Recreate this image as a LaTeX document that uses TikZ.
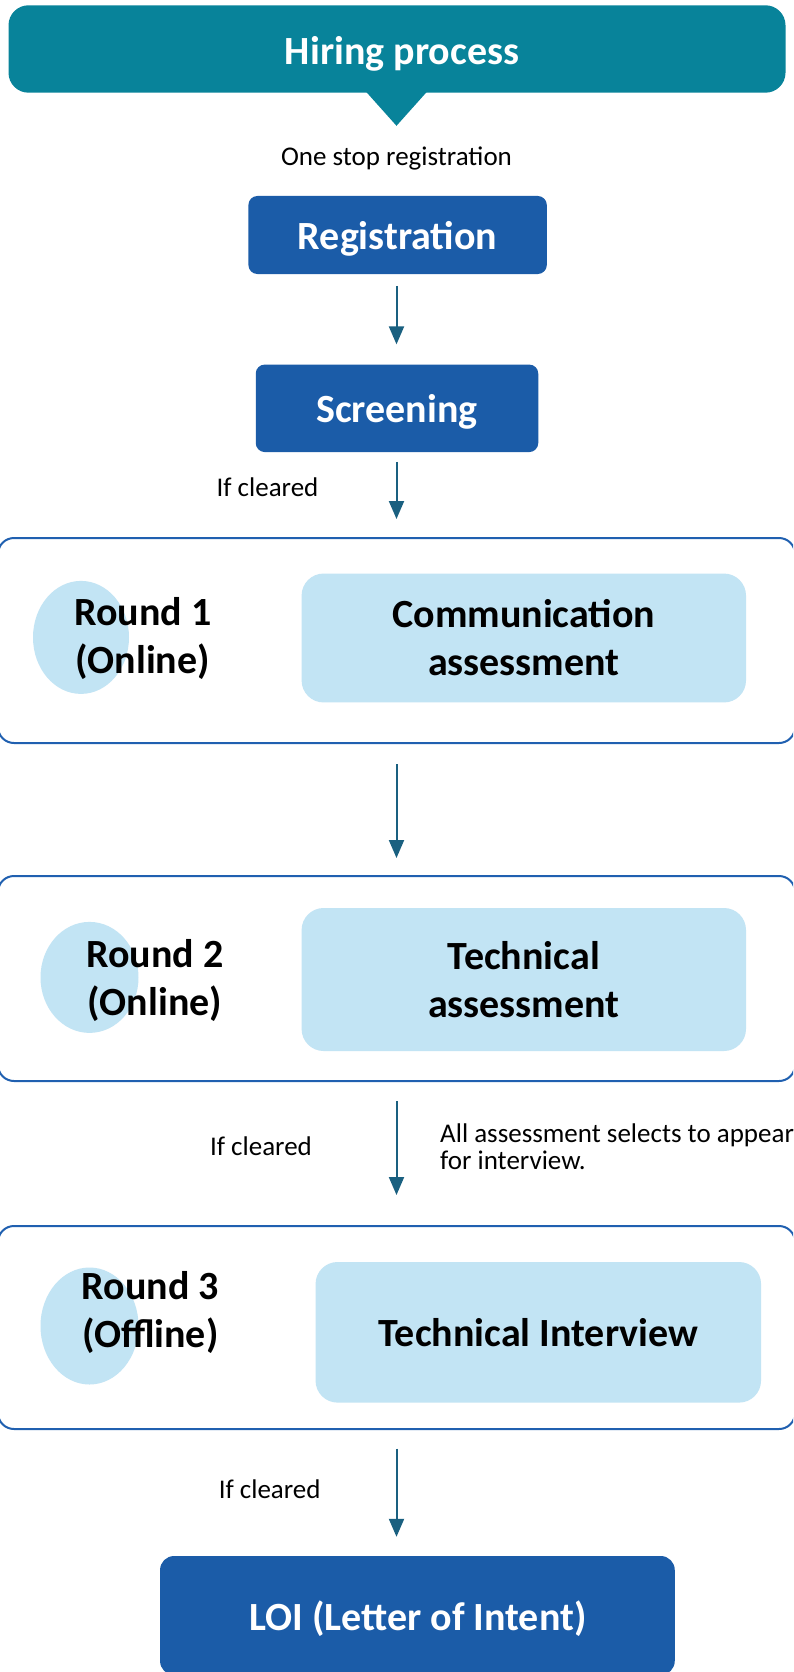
\documentclass[tikz,border=0pt]{standalone}
\usepackage{fontspec}
\setmainfont{Carlito}
\usetikzlibrary{arrows.meta,shapes.geometric}
\definecolor{tealbox}{HTML}{08839A}
\definecolor{regblue}{HTML}{1B5CA8}
\definecolor{lightb}{HTML}{C2E4F4}
\definecolor{arrowc}{HTML}{1A6080}
\definecolor{borderb}{HTML}{2060B0}
\begin{document}
\begin{tikzpicture}[x=1pt,y=-1pt,
  bigtext/.style={font=\fontsize{40}{48}\selectfont\bfseries},
  smalltext/.style={font=\fontsize{27}{27}\selectfont},
  darkbox/.style={fill=regblue, rounded corners=9pt, text=white, bigtext, inner sep=0pt, text depth=0pt},
  lightbox/.style={fill=lightb, rounded corners=22pt, bigtext, align=center, inner sep=0pt},
  container/.style={draw=borderb, line width=2pt, rounded corners=16pt, inner sep=0pt},
  flow/.style={draw=arrowc, line width=2pt, -{Triangle[length=18pt,width=15pt]}},
  roundlbl/.style={bigtext, align=center},
  oval/.style={ellipse, fill=lightb, inner sep=0pt},
  ]
\clip (0,0) rectangle (793,1672);
\fill[white] (0,0) rectangle (793,1672);
% title
\node[fill=tealbox, rounded corners=20pt, minimum width=777pt, minimum height=87.4pt, inner sep=0pt] (title) at (397,49) {};
\fill[tealbox] (364.5,90) -- (396.5,125.8) -- (428.5,90) -- cycle;
\node[bigtext, text=white, text depth=0pt] (titletext) at (402,50) {Hiring process};
\node[smalltext] (onestop) at (396.5,158.5) {One stop registration};
% boxes
\node[darkbox, minimum width=298.4pt, minimum height=78pt] (reg) at (397.6,235) {Registration};
\node[darkbox, minimum width=282.5pt, minimum height=87.5pt] (scr) at (397,408.3) {Screening};
% containers
\node[container, minimum width=797pt, minimum height=205pt] (c1) at (396.5,640.5) {};
\node[container, minimum width=797pt, minimum height=205pt] (c2) at (396.5,978.5) {};
\node[container, minimum width=797pt, minimum height=203pt] (c3) at (396.5,1327.5) {};
% ovals
\node[oval, minimum width=96pt, minimum height=113pt] (o1) at (81,637.4) {};
\node[oval, minimum width=98pt, minimum height=111pt] (o2) at (89.5,977.4) {};
\node[oval, minimum width=98pt, minimum height=117pt] (o3) at (89.5,1326) {};
\node[roundlbl] (r1) at (142.8,638) {Round 1\\(Online)};
\node[roundlbl] (r2) at (155,980.5) {Round 2\\(Online)};
\node[roundlbl] (r3) at (150.3,1312.5) {Round 3\\(Offline)};
% light boxes
\node[lightbox, minimum width=444.4pt, minimum height=128.9pt] (comm) at (523.8,638) {Communication\\assessment};
\node[lightbox, minimum width=444.4pt, minimum height=143pt] (tech) at (523.8,979.5) {Technical\\assessment};
\node[lightbox, minimum width=445.5pt, minimum height=140.6pt] (ti) at (538.3,1332.3) {Technical Interview};
% LOI
\node[darkbox, rounded corners=14pt, minimum width=514.7pt, minimum height=119pt] (loi) at (417.4,1615.5) {};
\node[bigtext, text=white, text depth=0pt] (loitext) at (417.8,1616) {LOI (Letter of Intent)};
% labels
\node[smalltext] (if1) at (267.5,487) {If cleared};
\node[smalltext] (if2) at (261,1146) {If cleared};
\node[smalltext] (if3) at (269.7,1489) {If cleared};
\node[smalltext, anchor=west, align=left, font=\fontsize{27}{27}\selectfont, inner sep=0pt] (allsel) at (440,1146.5) {All assessment selects to appear\\for interview.};
% arrows
\coordinate (ax) at (396.5,0);
\draw[flow, shorten <=11.7pt, shorten >=20pt] (reg.south -| ax) -- (scr.north -| ax);
\draw[flow, shorten <=9.5pt, shorten >=18pt] (scr.south -| ax) -- (c1.north -| ax);
\draw[flow, shorten <=20pt, shorten >=17pt] (c1.south -| ax) -- (c2.north -| ax);
\draw[flow, shorten <=19pt, shorten >=30pt] (c2.south -| ax) -- (c3.north -| ax);
\draw[flow, shorten <=18.5pt, shorten >=19pt] (c3.south -| ax) -- (loi.north -| ax);
\end{tikzpicture}
\end{document}
